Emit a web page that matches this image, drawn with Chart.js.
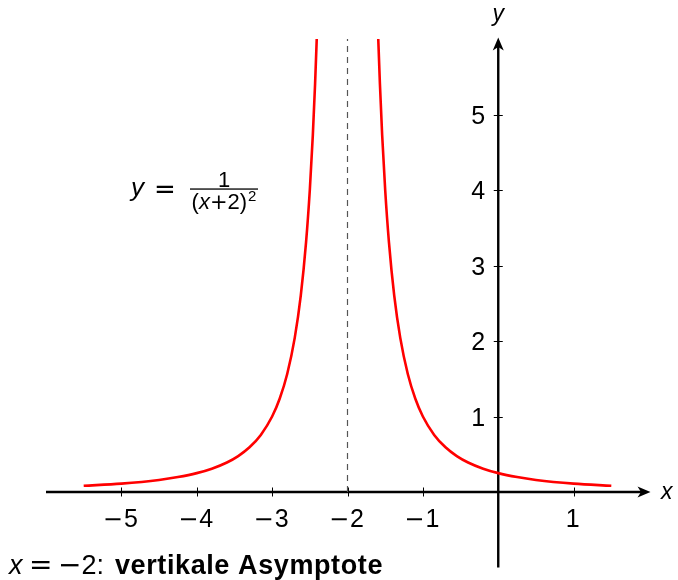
<!DOCTYPE html>
<html>
<head>
<meta charset="utf-8">
<script src="https://cdn.jsdelivr.net/npm/chart.js@4.4.0/dist/chart.umd.min.js"></script>
<style>
  html, body { margin: 0; padding: 0; background: #fff; }
</style>
</head>
<body>
<canvas id="plot" width="678" height="580"></canvas>
<script>
// y = 1/(x+2)^2, one branch on each side of the pole at x = -2
const leftX = [-5.5, -5.0, -4.5, -4.25, -4.0, -3.8, -3.6, -3.45, -3.3, -3.15, -3.0, -2.9, -2.8, -2.7,
               -2.62, -2.55, -2.5, -2.46, -2.43, -2.41, -2.39];
const leftY = [0.082, 0.111, 0.16, 0.198, 0.25, 0.309, 0.391, 0.476, 0.592, 0.756, 1.0, 1.235, 1.563, 2.041,
               2.601, 3.306, 4.0, 4.726, 5.408, 5.949, 6.574];
const rightX = [-1.61, -1.59, -1.57, -1.54, -1.5, -1.45, -1.38, -1.3, -1.2, -1.1, -1.0, -0.85, -0.7, -0.55,
                -0.4, -0.2, 0.0, 0.25, 0.5, 1.0, 1.5];
const rightY = [6.574, 5.949, 5.408, 4.726, 4.0, 3.306, 2.601, 2.041, 1.563, 1.235, 1.0, 0.756, 0.592, 0.476,
                0.391, 0.309, 0.25, 0.198, 0.16, 0.111, 0.082];

// vertical asymptote
const asymX = [-2, -2];
const asymY = [0, 6];

const xTicks = [-5, -4, -3, -2, -1, 1];
const yTicks = [1, 2, 3, 4, 5];

const SANS = '"Liberation Sans", Arial, sans-serif';
const SYM = '"DejaVu Sans", sans-serif';

function toPoints(xs, ys) {
    return xs.map((v, i) => ({ x: v, y: ys[i] }));
}

// a run of text pieces, each with its own font; returns the end x
function drawRun(ctx, parts, x, y, align) {
    let w = 0;
    parts.forEach(p => {
        ctx.font = p.font;
        w += ctx.measureText(p.text).width + (p.gap || 0);
    });
    let cx = align === 'center' ? x - w / 2 : align === 'right' ? x - w : x;
    ctx.textAlign = 'left';
    parts.forEach(p => {
        ctx.font = p.font;
        ctx.fillText(p.text, cx, y + (p.dy || 0));
        cx += ctx.measureText(p.text).width + (p.gap || 0);
    });
    return cx;
}

function tickParts(v) {
    const parts = [];
    if (v < 0) parts.push({ text: '\u2212', font: '24px ' + SYM, gap: 1 });
    parts.push({ text: String(Math.abs(v)), font: '25px ' + SANS });
    return parts;
}

function arrowHead(ctx, x, y, angle) {
    ctx.save();
    ctx.translate(x, y);
    ctx.rotate(angle);
    ctx.beginPath();
    ctx.moveTo(0, 0);
    ctx.lineTo(-13, -5.5);
    ctx.lineTo(-9.5, 0);
    ctx.lineTo(-13, 5.5);
    ctx.closePath();
    ctx.fill();
    ctx.restore();
}

// axis lines through the origin, tick marks, tick labels, arrows
const axesPlugin = {
    id: 'middleAxes',
    beforeDatasetsDraw(chart) {
        const { ctx } = chart;
        const xs = chart.scales.x, ys = chart.scales.y;
        const x0 = xs.getPixelForValue(0), y0 = ys.getPixelForValue(0);
        const left = xs.getPixelForValue(xs.min), right = xs.getPixelForValue(xs.max);
        const top = ys.getPixelForValue(ys.max), bottom = ys.getPixelForValue(ys.min);

        ctx.save();
        ctx.strokeStyle = '#000';
        ctx.fillStyle = '#000';
        ctx.lineWidth = 2.4;
        ctx.beginPath();
        ctx.moveTo(left, y0);
        ctx.lineTo(right - 4, y0);
        ctx.moveTo(x0, bottom);
        ctx.lineTo(x0, top + 4);
        ctx.stroke();
        arrowHead(ctx, right + 1.5, y0, 0);
        arrowHead(ctx, x0, top - 1.5, -Math.PI / 2);

        ctx.lineWidth = 1;
        ctx.beginPath();
        xTicks.forEach(v => {
            const px = Math.round(xs.getPixelForValue(v)) + 0.5;
            ctx.moveTo(px, y0 - 4.5);
            ctx.lineTo(px, y0 + 4.5);
        });
        yTicks.forEach(v => {
            const py = Math.round(ys.getPixelForValue(v)) + 0.5;
            ctx.moveTo(x0 - 4.5, py);
            ctx.lineTo(x0 + 4.5, py);
        });
        ctx.stroke();

        ctx.textBaseline = 'alphabetic';
        xTicks.forEach(v => {
            drawRun(ctx, tickParts(v), xs.getPixelForValue(v) - 1, y0 + 35, 'center');
        });
        yTicks.forEach(v => {
            drawRun(ctx, tickParts(v), x0 - 13, ys.getPixelForValue(v) + 9, 'right');
        });

        ctx.font = 'italic 23px ' + SANS;
        ctx.textAlign = 'left';
        ctx.fillText('x', right + 12, y0 + 7);
        ctx.textAlign = 'center';
        ctx.fillText('y', x0, top - 18);
        ctx.restore();
    }
};

// function label and the asymptote caption
const textPlugin = {
    id: 'captions',
    afterDraw(chart) {
        const { ctx } = chart;
        ctx.save();
        ctx.fillStyle = '#000';
        ctx.textBaseline = 'alphabetic';

        // y = 1 / (x+2)^2
        ctx.textAlign = 'left';
        ctx.font = 'italic 26px ' + SANS;
        ctx.fillText('y', 131, 196);
        ctx.font = '26px ' + SYM;
        ctx.fillText('=', 154, 198);
        ctx.fillRect(190, 188.4, 68, 1.3);
        ctx.font = '22px ' + SANS;
        ctx.textAlign = 'center';
        ctx.fillText('1', 224, 187);
        drawRun(ctx, [
            { text: '(', font: '22px ' + SANS },
            { text: 'x', font: 'italic 22px ' + SANS },
            { text: '+', font: '21px ' + SYM },
            { text: '2)', font: '22px ' + SANS, gap: 1 },
            { text: '2', font: '15px ' + SANS, dy: -8 },
        ], 224, 209, 'center');

        // x = -2: vertikale Asymptote
        const by = 574;
        drawRun(ctx, [{ text: 'x', font: 'italic 27px ' + SANS }], 9, by, 'left');
        drawRun(ctx, [{ text: '=', font: '28px ' + SYM }], 29, by, 'left');
        drawRun(ctx, [
            { text: '\u2212', font: '28px ' + SYM, gap: 0 },
            { text: '2:', font: '27px ' + SANS },
        ], 58, by, 'left');
        ctx.letterSpacing = '0.6px';
        drawRun(ctx, [{ text: 'vertikale Asymptote', font: 'bold 27px ' + SANS }], 115, by, 'left');
        ctx.restore();
    }
};

new Chart(document.getElementById('plot'), {
    type: 'scatter',
    data: {
        datasets: [{
            data: toPoints(leftX, leftY),
            showLine: true,
            borderColor: '#ff0000',
            borderWidth: 2.6,
            pointRadius: 0,
            cubicInterpolationMode: 'monotone',
        }, {
            data: toPoints(rightX, rightY),
            showLine: true,
            borderColor: '#ff0000',
            borderWidth: 2.6,
            pointRadius: 0,
            cubicInterpolationMode: 'monotone',
        }, {
            data: toPoints(asymX, asymY),
            showLine: true,
            borderColor: '#555555',
            borderWidth: 1.2,
            borderDash: [6, 5],
            pointRadius: 0,
        }]
    },
    options: {
        responsive: false,
        devicePixelRatio: 1,
        animation: false,
        layout: {
            padding: { left: 46, right: 29, top: 39, bottom: 12.5 }
        },
        scales: {
            x: { type: 'linear', min: -6, max: 2, display: false },
            y: { type: 'linear', min: -1, max: 6, display: false },
        },
        plugins: {
            legend: { display: false },
            tooltip: { enabled: false },
        },
    },
    plugins: [axesPlugin, textPlugin],
});
</script>
</body>
</html>
